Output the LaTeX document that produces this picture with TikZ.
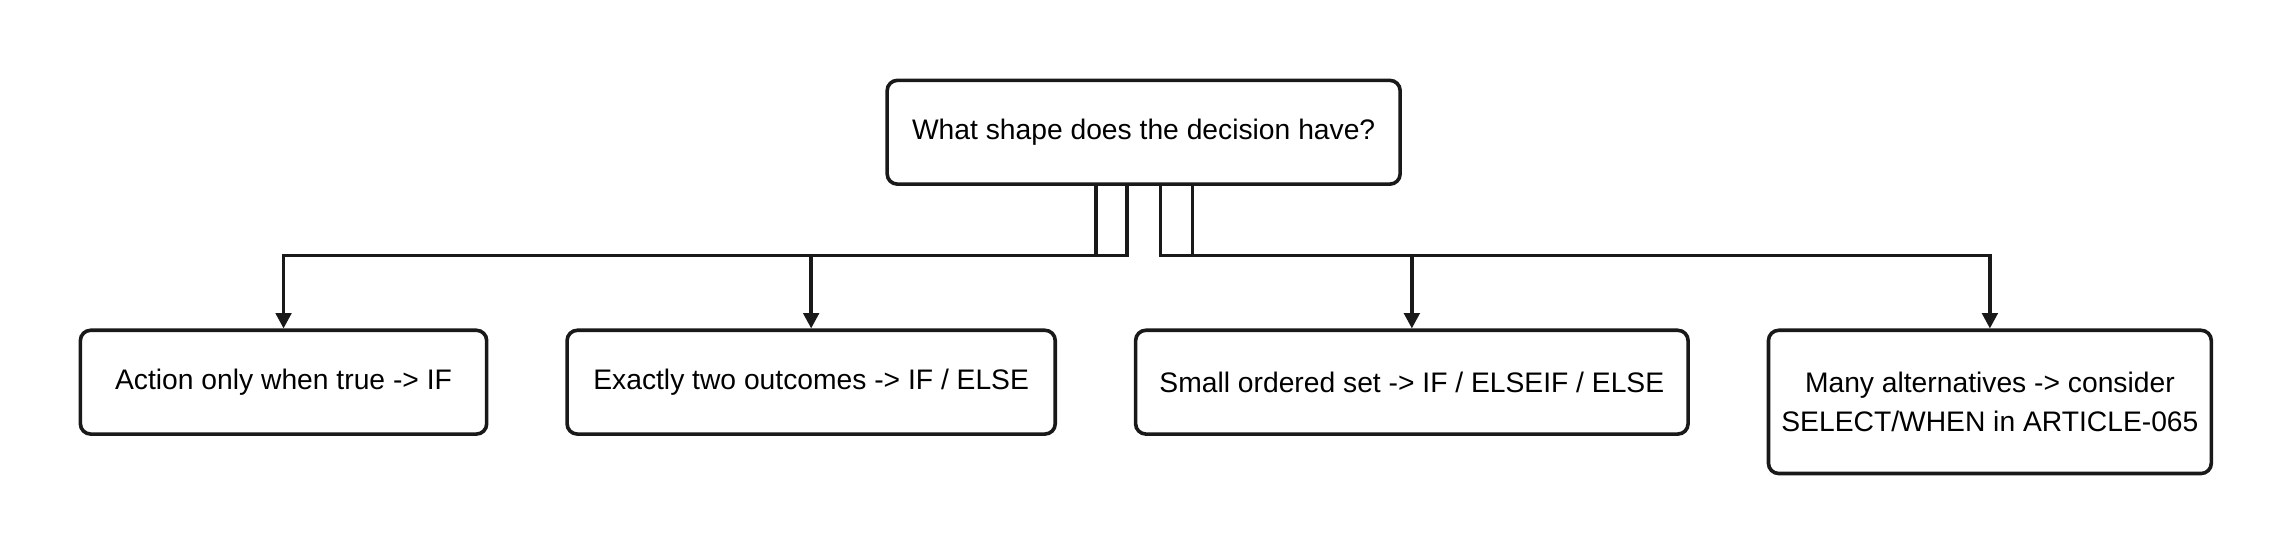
\documentclass[tikz,border=0pt]{standalone}
\usepackage{fontspec}
\setmainfont{Liberation Sans}
\usetikzlibrary{calc}
\tikzset{
  choice/.style={draw=black!90,line width=1.4pt,rounded corners=4pt,align=center,
    font=\fontsize{11}{15.5}\selectfont,inner sep=0pt},
  branch/.style={line width=1.4pt,draw=black!90,-{Triangle[length=6pt,width=6pt]}},
}
\usetikzlibrary{arrows.meta}
\begin{document}
\begin{tikzpicture}[x=0.02cm,y=-0.02cm]
\useasboundingbox (0,0) rectangle (1560,377);
% question and answers
\node[choice,minimum width=351*0.02cm,minimum height=71*0.02cm] (q) at (782.5,90.5) {What shape does the decision have?};
\node[choice,minimum width=278*0.02cm,minimum height=71*0.02cm] (a1) at (194,261.5) {Action only when true -> IF};
\node[choice,minimum width=334*0.02cm,minimum height=71*0.02cm] (a2) at (555,261.5) {Exactly two outcomes -> IF / ELSE};
\node[choice,minimum width=378*0.02cm,minimum height=71*0.02cm] (a3) at (966,261.5) {Small ordered set -> IF / ELSEIF / ELSE};
\node[choice,minimum width=303*0.02cm,minimum height=98*0.02cm] (a4) at (1361.5,275) {Many alternatives -> consider\\SELECT/WHEN in ARTICLE-065};
% branches
\draw[branch] ($(q.south)+(-32.5,0)$) |- ($(a1.north)+(0,-50)$) -- (a1.north);
\draw[branch] ($(q.south)+(-11.5,0)$) |- ($(a2.north)+(0,-50)$) -- (a2.north);
\draw[branch] ($(q.south)+(11.5,0)$) |- ($(a3.north)+(0,-50)$) -- (a3.north);
\draw[branch] ($(q.south)+(33.5,0)$) |- ($(a4.north)+(0,-50)$) -- (a4.north);
\end{tikzpicture}
\end{document}
